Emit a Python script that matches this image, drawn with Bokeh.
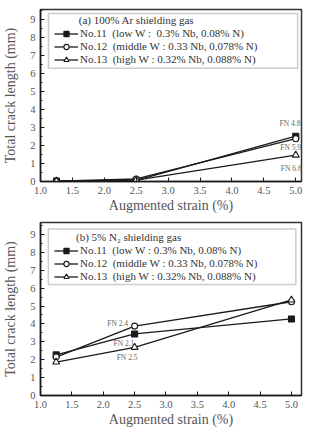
from bokeh.plotting import figure
from bokeh.layouts import column
from bokeh.models import (Legend, LegendItem, BoxAnnotation, FixedTicker,
                          SingleIntervalTicker, NumeralTickFormatter)
from bokeh.core.properties import value
from bokeh.embed import file_html
from bokeh.resources import INLINE

# Augmented strain (%) at which each specimen was tested
strain = [1.25, 2.5, 5.0]

# (a) 100% Ar shielding gas: total crack length (mm)
ar_no11 = [0.02, 0.06, 2.52]
ar_no12 = [0.02, 0.14, 2.38]
ar_no13 = [0.02, 0.08, 1.47]

# (b) 5% N2 shielding gas: total crack length (mm)
n2_no11 = [2.27, 3.44, 4.28]
n2_no12 = [2.15, 3.88, 5.24]
n2_no13 = [1.87, 2.69, 5.34]

labels_a = ["No.11  (low W :  0.3% Nb, 0.08% N)",
            "No.12  (middle W : 0.33 Nb, 0.078% N)",
            "No.13  (high W : 0.32% Nb, 0.088% N)"]
labels_b = ["No.11  (low W : 0.3% Nb, 0.08% N)",
            "No.12  (middle W : 0.33 Nb, 0.078% N)",
            "No.13  (high W : 0.32% Nb, 0.088% N)"]

title_a = "(a) 100% Ar shielding gas"
title_b = "(b) 5% N\u2082 shielding gas"

# ferrite number notes
fn_a_text = ["FN 4.8", "FN 5.9", "FN 6.6"]
fn_a_x = [4.91, 4.92, 4.93]
fn_a_y = [3.25, 1.88, 0.72]
fn_b_text = ["FN 2.4", "FN 2.1", "FN 2.5"]
fn_b_x = [2.23, 2.33, 2.38]
fn_b_y = [4.00, 2.92, 2.14]

x_ticks = [1.0, 1.5, 2.0, 2.5, 3.0, 3.5, 4.0, 4.5, 5.0]

FONT = "Liberation Serif"
INK = "#1a1a1a"
GREY = "#555555"

MARKERS = [("square", INK, 6), ("circle", "white", 6), ("triangle", "white", 7)]


def make_panel(height, borders, xr, yr, series, labels, title, title_pad,
               fn_text, fn_x, fn_y, fn_size, box, legend_loc):
    left, right, top, bottom = borders
    p = figure(width=309, height=height, x_range=xr, y_range=yr,
               output_backend="svg", toolbar_location=None,
               min_border_left=left, min_border_right=right,
               min_border_top=top, min_border_bottom=bottom,
               background_fill_color="white", border_fill_color="white")
    p.xgrid.visible = False
    p.ygrid.visible = False
    p.outline_line_color = "#333333"
    p.outline_line_width = 1.5

    p.xaxis.ticker = FixedTicker(ticks=x_ticks, minor_ticks=[])
    p.xaxis.formatter = NumeralTickFormatter(format="0.0")
    p.yaxis.ticker = SingleIntervalTicker(interval=1, num_minor_ticks=2)

    for ax in (p.xaxis[0], p.yaxis[0]):
        ax.axis_line_color = INK
        ax.axis_line_width = 1.5
        ax.major_tick_in = 4
        ax.major_tick_out = 0
        ax.minor_tick_in = 2
        ax.minor_tick_out = 0
        ax.major_tick_line_color = INK
        ax.minor_tick_line_color = INK
        ax.major_label_text_font = FONT
        ax.major_label_text_font_size = "10.5px"
        ax.major_label_text_color = GREY
        ax.axis_label_text_font = FONT
        ax.axis_label_text_font_size = "14px"
        ax.axis_label_text_font_style = "normal"
        ax.axis_label_text_color = GREY
        ax.major_label_standoff = 5

    p.xaxis.axis_label = "Augmented strain (%)"
    p.xaxis.axis_label_standoff = 1
    p.yaxis.axis_label = "Total crack length (mm)"
    p.yaxis.axis_label_standoff = 9

    items = []
    for ys, label, (marker, fill, size) in zip(series, labels, MARKERS):
        ln = p.line(strain, ys, line_color=INK, line_width=1.3)
        sc = p.scatter(strain, ys, marker=marker, size=size, fill_color=fill,
                       line_color=INK, line_width=1.1)
        items.append(LegendItem(label=label, renderers=[ln, sc]))

    p.text(fn_x, fn_y, text=fn_text, text_font=value(FONT),
           text_font_size=fn_size, text_color="#666666",
           text_align="center", text_baseline="middle")

    bl, br, bt, bb = box
    p.add_layout(BoxAnnotation(left=bl, right=br, top=bt, bottom=bb,
                               fill_alpha=0, line_color="#555555",
                               line_width=1.5))

    legend = Legend(items=items, location=legend_loc,
                    title="\u00a0" * title_pad + title,
                    title_text_font=FONT, title_text_font_size="11px",
                    title_text_font_style="normal", title_text_color="#333333",
                    title_standoff=1,
                    label_text_font=FONT, label_text_font_size="11px",
                    label_text_color="#333333",
                    label_height=13, glyph_height=13, glyph_width=24,
                    label_standoff=2, spacing=0, padding=0, margin=0,
                    border_line_alpha=0, background_fill_alpha=0)
    p.add_layout(legend)
    return p


top = make_panel(215, (39, 8, 9, 33), (1.0, 5.09), (0, 9.57),
                 [ar_no11, ar_no12, ar_no13], labels_a, title_a, 9,
                 fn_a_text, fn_a_x, fn_a_y, "7.5px",
                 (1.125, 5.03, 9.35, 6.30), (14, 115.5))

bottom = make_panel(216, (38, 4, 7, 36), (1.0, 5.16), (0, 9.67),
                    [n2_no11, n2_no12, n2_no13], labels_b, title_b, 8,
                    fn_b_text, fn_b_x, fn_b_y, "7.5px",
                    (1.125, 5.07, 9.31, 6.20), (14, 112.5))

layout = column(top, bottom, spacing=0)

with open("out.html", "w") as f:
    f.write(file_html(layout, INLINE))
